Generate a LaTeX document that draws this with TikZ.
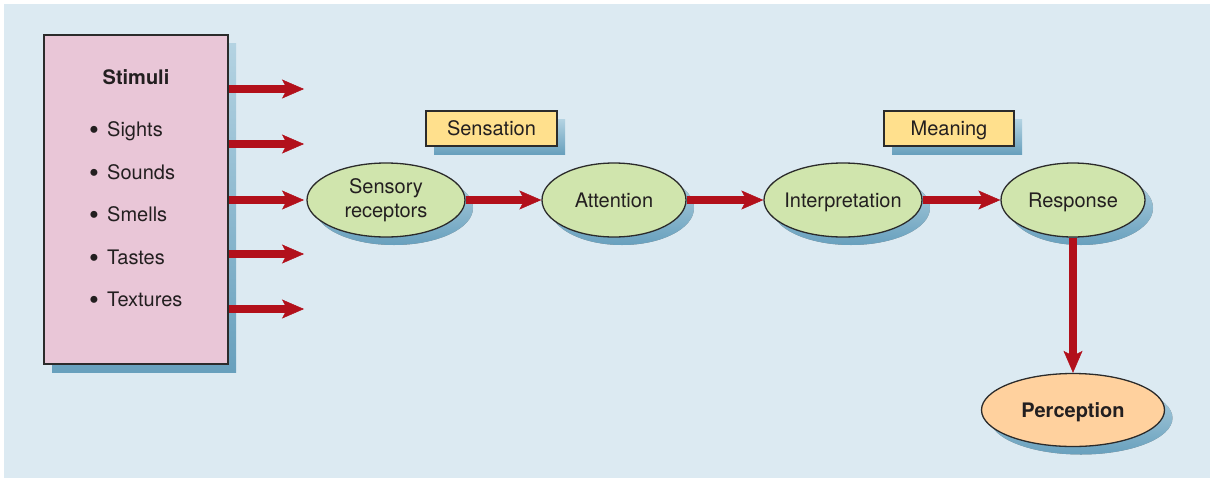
\documentclass[tikz,border=0pt]{standalone}
\usepackage{fontspec}
\setmainfont{TeX Gyre Heros}
\usetikzlibrary{arrows.meta,shapes.geometric,shadows}
\definecolor{panelblue}{HTML}{DCEAF2}
\definecolor{stimpink}{HTML}{E9C6D7}
\definecolor{stagegreen}{HTML}{D0E5AD}
\definecolor{tagyellow}{HTML}{FFE08D}
\definecolor{percorange}{HTML}{FFD19E}
\definecolor{flowred}{HTML}{B2101B}
\definecolor{shadetop}{HTML}{B4D3E2}
\definecolor{shadebottom}{HTML}{68A0BD}
\definecolor{edgegray}{HTML}{2B2B2B}
\definecolor{inkdark}{HTML}{231F20}

\newcommand{\stimdot}{\makebox[18pt][l]{\raisebox{-3pt}{\fontsize{28}{28}\selectfont\textbullet}}}

\tikzset{
    blueshadow/.style={drop shadow={shadow xshift=8pt, shadow yshift=-8pt, top color=shadetop, bottom color=shadebottom, draw=none, opacity=1}},
    stage/.style={ellipse, draw=edgegray, line width=1.3pt, fill=stagegreen, inner sep=0pt, minimum width=158pt, minimum height=74pt, blueshadow},
    capline/.style={text height=14.4pt, text depth=0pt},
    tag/.style={rectangle, draw=edgegray, line width=1.3pt, fill=tagyellow, inner sep=0pt, minimum width=131pt, minimum height=35pt, blueshadow, capline},
    flow/.style={draw=flowred, line width=8pt, -{Stealth[length=22pt, width=19pt, inset=5pt, line width=0.5pt]}},
    item/.style={anchor=base west, inner sep=0pt},
}

\begin{document}
\begin{tikzpicture}[x=1pt, y=-1pt, font=\fontsize{20}{24}\selectfont, text=inkdark]
    \useasboundingbox (0, 0) rectangle (1213, 480);
    \fill[panelblue] (4, 4) rectangle (1210, 478);

    % stimuli list
    \node[rectangle, draw=edgegray, line width=1.5pt, fill=stimpink, minimum width=184pt, minimum height=329pt, blueshadow] (stimuli) at (136, 199.5) {};
    \node[capline] (title) at (136, 77) {\textbf{Stimuli}};
    \node[item] (sights) at (89, 136) {\stimdot Sights};
    \node[item] (sounds) at (89, 179) {\stimdot Sounds};
    \node[item] (smells) at (89, 221) {\stimdot Smells};
    \node[item] (tastes) at (89, 264) {\stimdot Tastes};
    \node[item] (textures) at (89, 306) {\stimdot Textures};

    \coordinate (in1) at (304, 89);
    \coordinate (in2) at (304, 144);
    \coordinate (in3) at (304, 200);
    \coordinate (in4) at (304, 254);
    \coordinate (in5) at (304, 309);

    % stages
    \node[stage, align=center] (receptors) at (386, 200) {Sensory\\receptors};
    \node[stage, capline, minimum width=144pt] (attention) at (614, 200) {Attention};
    \node[stage, capline] (interpretation) at (843, 200) {\makebox[100pt]{Interpretation}};
    \node[stage, capline, minimum width=144pt] (response) at (1073, 200) {Response};
    \node[stage, capline, fill=percorange, minimum width=183pt, minimum height=73pt] (perception) at (1073, 410) {\textbf{Perception}};

    \node[tag] (sensation) at (491.5, 128.5) {Sensation};
    \node[tag, minimum width=130pt] (meaning) at (949, 128.5) {Meaning};

    \draw[flow] (in1 -| stimuli.east) -- (in1);
    \draw[flow] (in2 -| stimuli.east) -- (in2);
    \draw[flow] (in3 -| stimuli.east) -- (in3);
    \draw[flow] (in4 -| stimuli.east) -- (in4);
    \draw[flow] (in5 -| stimuli.east) -- (in5);

    \draw[flow] (receptors.east) -- (attention.west);
    \draw[flow] (attention.east) -- (interpretation.west);
    \draw[flow] (interpretation.east) -- (response.west);
    \draw[flow] (response.south) -- (perception.north);

\end{tikzpicture}
\end{document}
